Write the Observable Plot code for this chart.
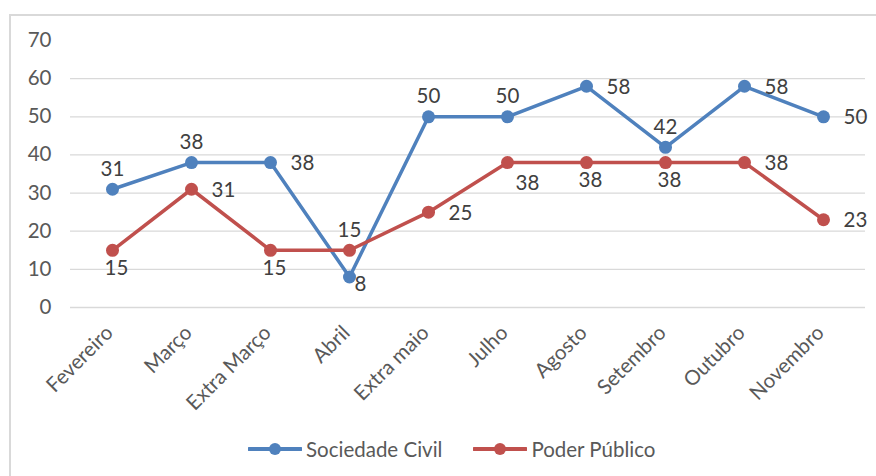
<!DOCTYPE html>
<html><head><meta charset="utf-8">
<script src="https://cdn.jsdelivr.net/npm/d3@7"></script>
<script src="https://cdn.jsdelivr.net/npm/@observablehq/plot@0.6"></script>
<style>
body{margin:0;background:#fff;width:876px;height:476px;overflow:hidden;position:relative;font-family:Lato,"Open Sans",sans-serif;}
#frame{position:absolute;left:9px;top:14px;width:900px;height:520px;border:2px solid #d9d9d9;box-sizing:border-box;}
#chart{position:absolute;left:0;top:0;}
#legend{position:absolute;left:248px;top:437px;display:flex;align-items:center;font-size:20.5px;color:#595959;}
.item{display:flex;align-items:center;margin-right:31px;}
.item svg{margin-right:4px;}
</style>
</head><body>
<div id="frame"></div>
<div id="chart"></div>
<div id="legend"></div>
<script>
const months = ["Fevereiro","Março","Extra Março","Abril","Extra maio","Julho","Agosto","Setembro","Outubro","Novembro"];
const seriesNames = ["Sociedade Civil","Poder Público"];
const seriesColors = ["#4F81BD","#C0504D"];
const sociedadeCivil = [31,38,38,8,50,50,58,42,58,50];
const poderPublico = [15,31,15,15,25,38,38,38,38,23];
const sociedadeCivilLabelPos = ["above","above","right","belowright","above","above","right","above","right","right"];
const poderPublicoLabelPos = ["below","right","below","above","right","belowright","below","below","right","right"];
const yTicks = [0,10,20,30,40,50,60,70];
const gridTicks = [0,10,20,30,40,50,60];

const rows = [];
months.forEach((m,i)=>rows.push({month:m,value:sociedadeCivil[i],series:seriesNames[0],pos:sociedadeCivilLabelPos[i]}));
months.forEach((m,i)=>rows.push({month:m,value:poderPublico[i],series:seriesNames[1],pos:poderPublicoLabelPos[i]}));

const FS = 20.5;
const placements = {
  above:{dx:0,dy:-20,textAnchor:"middle"},
  below:{dx:4,dy:18,textAnchor:"middle"},
  right:{dx:20,dy:1,textAnchor:"start"},
  belowright:{dx:5,dy:7,textAnchor:"start"}
};
const ppBelowRight = {dx:20,dy:21,textAnchor:"middle"};

const labelMarks = [];
for (const [key,p] of Object.entries(placements)) {
  labelMarks.push(Plot.text(rows.filter(d=>d.pos===key && !(key==="belowright" && d.series===seriesNames[1])), {
    x:"month", y:"value", text:d=>String(d.value), dx:p.dx, dy:p.dy, textAnchor:p.textAnchor,
    fill:"#404040", fontSize:FS
  }));
}
labelMarks.push(Plot.text(rows.filter(d=>d.pos==="belowright" && d.series===seriesNames[1]), {
  x:"month", y:"value", text:d=>String(d.value), dx:ppBelowRight.dx, dy:ppBelowRight.dy, textAnchor:ppBelowRight.textAnchor,
  fill:"#404040", fontSize:FS
}));

const plot = Plot.plot({
  width:876, height:425,
  marginLeft:70, marginRight:11, marginTop:40, marginBottom:118,
  style:{fontFamily:"Lato, 'Open Sans', sans-serif", color:"#595959", background:"transparent"},
  x:{type:"point", domain:months, padding:0.5},
  y:{domain:[0,70]},
  color:{domain:seriesNames, range:seriesColors},
  marks:[
    Plot.gridY(gridTicks,{stroke:"#d9d9d9", strokeOpacity:1, strokeWidth:1.3}),
    Plot.axisY(yTicks,{tickSize:0, tickPadding:19, fontSize:FS, label:null}),
    Plot.axisX({tickRotate:-45, tickSize:0, tickPadding:22, dx:-3, fontSize:FS, label:null}),
    Plot.line(rows,{x:"month", y:"value", z:"series", stroke:"series", strokeWidth:3.5}),
    Plot.dot(rows,{x:"month", y:"value", fill:"series", r:6.5}),
    ...labelMarks
  ]
});
document.getElementById("chart").appendChild(plot);

const legend = document.getElementById("legend");
seriesNames.forEach((name,i)=>{
  const item = document.createElement("div");
  item.className="item";
  item.innerHTML = `<svg width="54" height="16"><line x1="1" y1="8" x2="53" y2="8" stroke="${seriesColors[i]}" stroke-width="4" stroke-linecap="round"/><circle cx="27" cy="8" r="6" fill="${seriesColors[i]}"/></svg><span>${name}</span>`;
  legend.appendChild(item);
});
</script>
</body></html>
